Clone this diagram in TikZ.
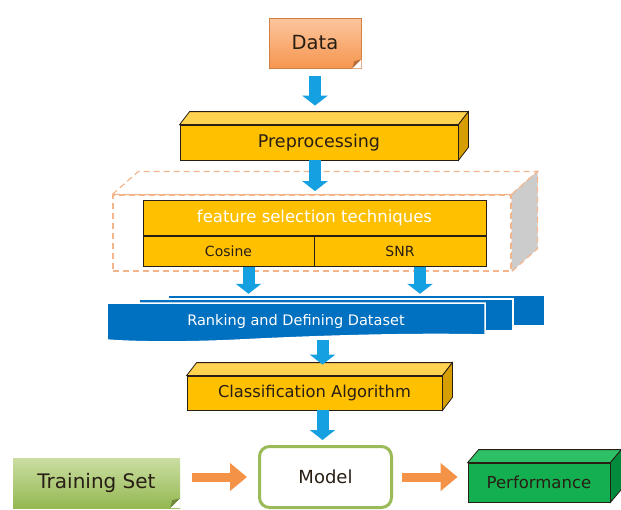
\documentclass[tikz,border=0pt]{standalone}
\usepackage{fontspec}
\setmainfont{DejaVu Sans}
\usetikzlibrary{arrows.meta,calc}

\definecolor{dataorange}{RGB}{246,150,80}
\definecolor{datalight}{RGB}{252,198,158}
\definecolor{golden}{RGB}{255,192,0}
\definecolor{goldtop}{RGB}{255,210,80}
\definecolor{goldside}{RGB}{214,158,0}
\definecolor{dashorange}{RGB}{244,180,140}
\definecolor{bandblue}{RGB}{0,112,192}
\definecolor{flowblue}{RGB}{20,160,225}
\definecolor{pushorange}{RGB}{244,146,72}
\definecolor{modelgreen}{RGB}{155,187,89}
\definecolor{trainlight}{RGB}{202,222,162}
\definecolor{traindark}{RGB}{148,184,82}
\definecolor{perfgreen}{RGB}{20,175,80}
\definecolor{perftop}{RGB}{45,192,102}
\definecolor{perfside}{RGB}{0,140,60}
\definecolor{ink}{RGB}{40,30,20}

\newcommand{\prism}[4]{%
  \path[#3] (#1.north west) -- ++#2 -- ($(#1.north east)+#2$) -- (#1.north east) -- cycle;
  \path[#4] (#1.north east) -- ++#2 -- ($(#1.south east)+#2$) -- (#1.south east) -- cycle;}

\begin{document}
\begin{tikzpicture}[x=1pt,y=-1pt,
  fsize/.style={font=\fontsize{#1}{#1}\selectfont},
  gold/.style={draw=ink,fill=golden,text=ink,inner sep=0pt,line width=0.8pt},
  flow/.style={draw=flowblue,line width=12pt,-{Triangle[width=25pt,length=10pt]}},
  push/.style={draw=pushorange,line width=9pt,-{Triangle[width=27pt,length=17pt]}},
  dashline/.style={draw=dashorange,line width=1.2pt,dash pattern=on 6pt off 4pt}]
  \useasboundingbox (0,0) rectangle (621,509);

  \node[fsize=19.5,text=ink,draw=dataorange!85!black,line width=0.6pt,top color=datalight,bottom color=dataorange,minimum width=92pt,minimum height=50pt] (data) at (315,43) {Data};
  \fill[white] (data.south east) -- ++(-9,0) -- ++(9,-9) -- cycle;
  \fill[dataorange!75!black] ($(data.south east)+(-9,0)$) -- ++(9,-9) -- ++(-7,2) -- cycle;

  \node[gold,fsize=17.5,minimum width=278pt,minimum height=35pt] (pre) at (319,142.5) {Preprocessing};
  \prism{pre}{(10,-13)}{fill=goldtop,draw=ink,line width=0.8pt}{fill=goldside,draw=ink,line width=0.8pt}

  \node[dashline,minimum width=398pt,minimum height=76pt] (fsbox) at (312,233) {};
  \prism{fsbox}{(26,-23)}{dashline}{dashline,fill=black!20}

  \node[gold,fsize=16.5,text=white,minimum width=343pt,minimum height=35pt] (fst) at (314.5,218) {feature selection techniques};
  \node[gold,fsize=14,minimum width=171pt,minimum height=30pt,anchor=north west] (cos) at (fst.south west) {Cosine};
  \node[gold,fsize=14,minimum width=172pt,minimum height=30pt,anchor=north east] (snr) at (fst.south east) {SNR};

  \fill[bandblue,draw=white,line width=1.5pt] (168,295) rectangle (545,326);
  \fill[bandblue,draw=white,line width=1.5pt] (139,299) rectangle (513,331);
  \fill[bandblue,draw=white,line width=1.5pt] (107,303) -- (485,303) -- (485,335)
    .. controls (400,333) and (300,337) .. (240,340) .. controls (180,343) and (130,342) .. (107,340) -- cycle;
  \node[fsize=14.5,text=white,minimum width=378pt,minimum height=38pt] (rank) at (296,321) {Ranking and Defining Dataset};

  \node[gold,fsize=16.3,minimum width=255pt,minimum height=34pt] (cls) at (314.5,393) {Classification Algorithm};
  \prism{cls}{(10,-13)}{fill=goldtop,draw=ink,line width=0.8pt}{fill=goldside,draw=ink,line width=0.8pt}

  \node[fsize=20,text=ink,top color=trainlight,bottom color=traindark,minimum width=167pt,minimum height=50pt] (train) at (96.5,483) {Training Set};
  \fill[white] (train.south east) -- ++(-10,0) -- ++(10,-10) -- cycle;
  \fill[traindark!75!black] ($(train.south east)+(-10,0)$) -- ++(10,-10) -- ++(-8,2) -- cycle;

  \node[fsize=18,text=ink,draw=modelgreen,line width=3pt,rounded corners=10pt,fill=white,minimum width=132pt,minimum height=61pt] (model) at (325.5,477) {Model};

  \node[fsize=16.5,text=ink,draw=ink,fill=perfgreen,line width=0.8pt,minimum width=142pt,minimum height=39pt] (perf) at (539,482.5) {Performance};
  \prism{perf}{(11,-13)}{fill=perftop,draw=ink,line width=0.8pt}{fill=perfside,draw=ink,line width=0.8pt}

  \coordinate (cosout) at ($(cos.south)+(20,0)$);
  \coordinate (snrout) at ($(snr.south)+(20,0)$);
  \coordinate (clsin) at ($(cls.north)+(8,0)$);
  \draw[flow,shorten <=8pt,shorten >=19pt] (data.south) -- (data.south |- pre.north);
  \draw[flow,shorten >=9pt] (pre.south -| data.south) -- (data.south |- fst.north);
  \draw[flow,shorten >=8pt] (cosout) -- (cosout |- rank.north);
  \draw[flow,shorten >=8pt] (snrout) -- (snrout |- rank.north);
  \draw[flow,shorten >=11pt] (clsin |- rank.south) -- (clsin);
  \draw[flow,shorten >=5pt] (clsin |- cls.south) -- (clsin |- model.north);
  \draw[push,shorten <=12pt,shorten >=11pt] (train.east |- model) -- (model);
  \draw[push,shorten <=9pt,shorten >=10pt] (model.east) -- (model.east -| perf.west);
\end{tikzpicture}
\end{document}
